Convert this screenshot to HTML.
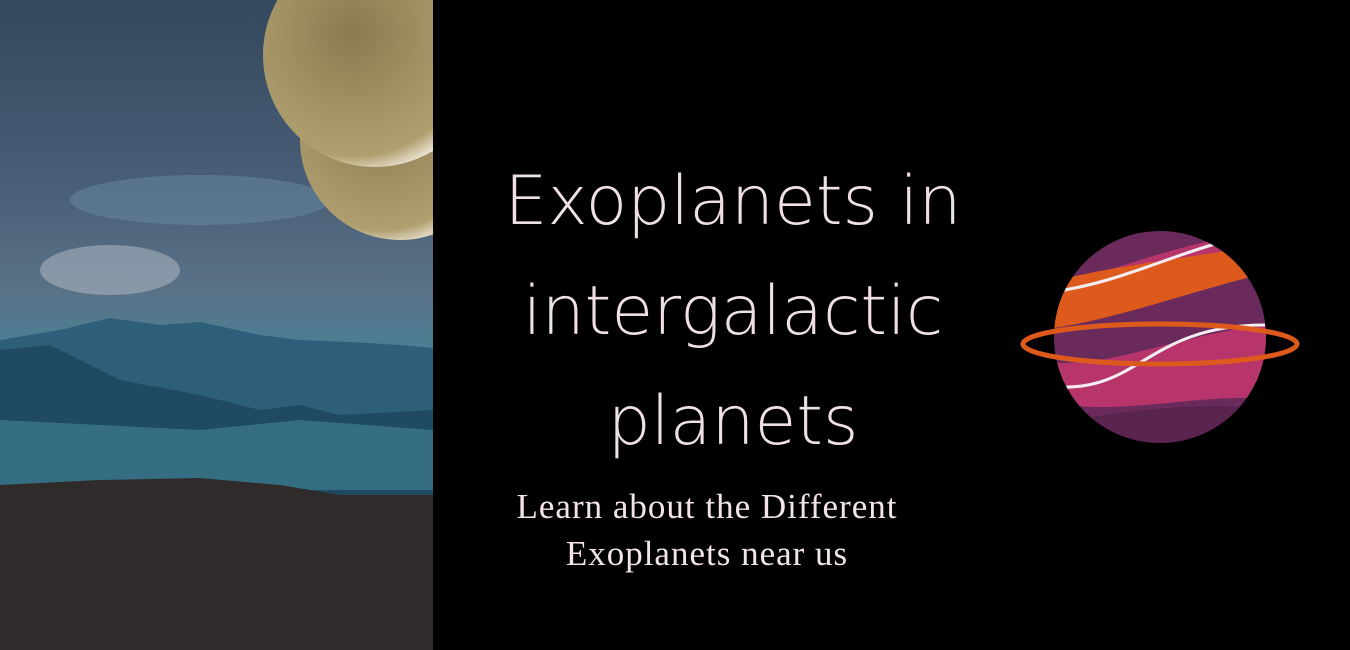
<!DOCTYPE html>
<html><head><meta charset="utf-8"><style>
html,body{margin:0;padding:0;background:#000;width:1350px;height:650px;overflow:hidden}
.t{position:absolute;color:#eee0e6;font-family:"DejaVu Sans","Liberation Sans",sans-serif;font-weight:200;font-size:68px;text-align:center;width:600px;left:433px;letter-spacing:0px}
.s{position:absolute;color:#f2e4ea;font-family:"Liberation Serif",serif;font-size:35px;text-align:center;width:600px;left:407px;letter-spacing:1px}
</style></head><body>
<svg width="433" height="650" style="position:absolute;left:0;top:0">
<defs>
<linearGradient id="sky" x1="0" y1="0" x2="0" y2="1">
<stop offset="0" stop-color="#34475e"/><stop offset="0.3" stop-color="#4a6078"/><stop offset="0.45" stop-color="#5a7288"/><stop offset="0.6" stop-color="#3e8a9c"/></linearGradient>
<radialGradient id="pl" cx="0.4" cy="0.4" r="0.65"><stop offset="0" stop-color="#8a7a50"/><stop offset="0.85" stop-color="#b0a070"/><stop offset="1" stop-color="#f4eee0"/></radialGradient>
</defs>
<rect width="433" height="650" fill="url(#sky)"/>
<ellipse cx="110" cy="270" rx="70" ry="25" fill="#b8c0c8" opacity="0.5"/>
<ellipse cx="200" cy="200" rx="130" ry="25" fill="#6a8aa4" opacity="0.5"/>
<circle cx="400" cy="140" r="100" fill="url(#pl)"/>
<circle cx="375" cy="55" r="112" fill="url(#pl)"/>
<polygon points="0,340 60,330 110,318 160,325 200,322 260,335 300,340 350,342 400,345 433,348 433,420 0,420" fill="#2e5f7a"/>
<polygon points="0,350 50,345 120,380 200,395 260,410 300,405 340,415 433,410 433,500 0,500" fill="#1f4a62"/>
<polygon points="0,420 200,430 300,420 433,430 433,490 0,490" fill="#3f7d90" opacity="0.7"/>
<polygon points="0,485 100,480 200,478 280,485 340,495 433,495 433,650 0,650" fill="#2f2b2a"/>
</svg>
<div class="t" style="top:162px">Exoplanets in</div>
<div class="t" style="top:272px">intergalactic</div>
<div class="t" style="top:382px">planets</div>
<div class="s" style="top:487px">Learn about the Different</div>
<div class="s" style="top:534px">Exoplanets near us</div>
<svg width="1350" height="650" style="position:absolute;left:0;top:0">
<defs><clipPath id="c"><circle cx="1160" cy="337" r="106"/></clipPath></defs>
<g clip-path="url(#c)">
<rect x="1050" y="228" width="220" height="220" fill="#6a2b5c"/>
<path d="M1040,290 C1120,270 1180,240 1280,230 L1280,250 C1200,270 1130,300 1040,310Z" fill="#b8356c"/>
<path d="M1040,285 C1110,265 1180,260 1260,245 L1280,270 C1190,290 1120,320 1040,330Z" fill="#de5a1c"/>
<path d="M1040,362 C1120,370 1180,330 1280,325 L1280,400 C1200,390 1120,420 1040,400Z" fill="#b8356c"/>
<path d="M1040,425 C1130,410 1200,400 1280,410 L1280,450 L1040,450Z" fill="#5a2450"/>
<path d="M1050,292 C1110,285 1160,260 1215,244" stroke="#f4eef2" stroke-width="3" fill="none"/>
<path d="M1060,387 C1140,390 1150,325 1265,325" stroke="#f4eef2" stroke-width="3" fill="none"/>
</g>
<ellipse cx="1160" cy="344" rx="137" ry="20" fill="none" stroke="#de5a1c" stroke-width="5"/>
</svg>
</body></html>
